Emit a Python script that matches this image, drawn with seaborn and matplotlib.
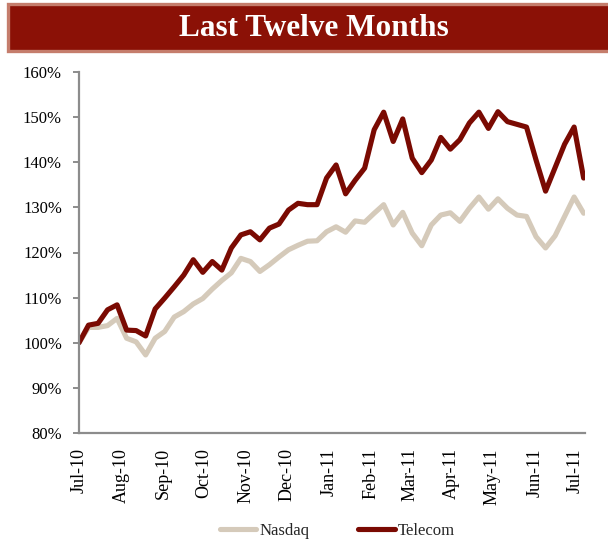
import numpy as np
import pandas as pd
import matplotlib
matplotlib.use("Agg")
import matplotlib.pyplot as plt
import matplotlib.dates as mdates
from matplotlib.patches import Rectangle
from matplotlib.ticker import FuncFormatter
from matplotlib.lines import Line2D
import seaborn as sns

# ---------------- data ----------------
week_start = "2010-07-01"
n_weeks = 54
nasdaq = [100.0, 103.4, 103.4, 103.8, 105.4, 101.0, 100.2, 97.3, 101.0, 102.5,
          105.7, 106.9, 108.6, 109.8, 111.9, 113.8, 115.5, 118.7, 118.0, 115.8,
          117.3, 119.0, 120.6, 121.6, 122.5, 122.6, 124.6, 125.7, 124.5, 127.0,
          126.7, 128.7, 130.6, 126.1, 128.9, 124.3, 121.5, 126.1, 128.3, 128.8,
          126.9, 129.8, 132.3, 129.6, 131.9, 129.8, 128.3, 128.0, 123.5, 121.0,
          123.7, 128.0, 132.3, 128.7]
telecom = [100.0, 103.9, 104.3, 107.3, 108.4, 102.8, 102.7, 101.5, 107.5, 109.9,
           112.4, 115.0, 118.4, 115.6, 118.0, 116.1, 121.0, 123.9, 124.6, 122.8,
           125.4, 126.3, 129.4, 130.9, 130.6, 130.6, 136.5, 139.4, 133.0, 136.0,
           138.7, 147.2, 151.1, 144.6, 149.6, 140.9, 137.7, 140.5, 145.5, 142.9,
           145.0, 148.7, 151.1, 147.5, 151.2, 149.0, 148.4, 147.8, 140.5, 133.6,
           138.8, 144.0, 147.8, 136.5]
series_names = ["Nasdaq", "Telecom"]
series_colors = ["#D5CABA", "#7A0A02"]
y_ticks = [80, 90, 100, 110, 120, 130, 140, 150, 160]

dates = pd.date_range(week_start, periods=n_weeks, freq="7D")
df = pd.concat([
    pd.DataFrame({"date": dates, "value": nasdaq, "series": "Nasdaq"}),
    pd.DataFrame({"date": dates, "value": telecom, "series": "Telecom"}),
])

# ---------------- style ----------------
sns.set_style("white")
plt.rcParams["font.family"] = ["Liberation Serif", "DejaVu Serif"]

fig = plt.figure(figsize=(6.08, 5.42), dpi=100)
ax = fig.add_axes([79/608, 1-433/542, (585-79)/608, (433-72)/542])

sns.lineplot(data=df, x="date", y="value", hue="series",
             hue_order=series_names, palette=series_colors,
             linewidth=3.7, ax=ax, legend=False)

ax.set_xlim(dates[0], dates[-1] + pd.Timedelta(days=1))
ax.set_ylim(y_ticks[0], y_ticks[-1])
ax.set_yticks(y_ticks)
ax.yaxis.set_major_formatter(FuncFormatter(lambda v, p: f"{v:.0f}%"))
ax.xaxis.set_major_locator(mdates.MonthLocator())
ax.xaxis.set_major_formatter(mdates.DateFormatter("%b-%y"))
ax.set_xlabel("")
ax.set_ylabel("")

for s in ["top", "right"]:
    ax.spines[s].set_visible(False)
for s in ["left", "bottom"]:
    ax.spines[s].set_color("#8C8C8C")
    ax.spines[s].set_linewidth(1.6)

ax.tick_params(axis="y", length=4.3, width=1.4, color="#8C8C8C",
               labelsize=12, pad=8.0, labelcolor="black", left=True)
ax.tick_params(axis="x", length=0, labelsize=13, pad=11, labelcolor="black",
               labelrotation=90, bottom=True)
for lbl in ax.get_xticklabels():
    lbl.set_verticalalignment("top")
ax.grid(False)

# legend
handles = [Line2D([0], [0], color=c, lw=3.7) for c in series_colors]
fig.legend(handles, series_names, loc="center", bbox_to_anchor=(0.555, 1-531/542),
           ncol=2, frameon=False, fontsize=12, handlelength=2.2,
           handletextpad=0.2, columnspacing=2.9)

# title banner
fig.patches.append(Rectangle((8/608, 1-51/542), 1.0, 47/542, transform=fig.transFigure,
                             facecolor="#8B1106", edgecolor="#C57D6C", linewidth=2.4,
                             zorder=0))
fig.text(313.5/608, 1-28/542, "Last Twelve Months", ha="center", va="center",
         color="white", fontsize=22.5, fontweight="bold")

fig.savefig("out.png", dpi=100)
